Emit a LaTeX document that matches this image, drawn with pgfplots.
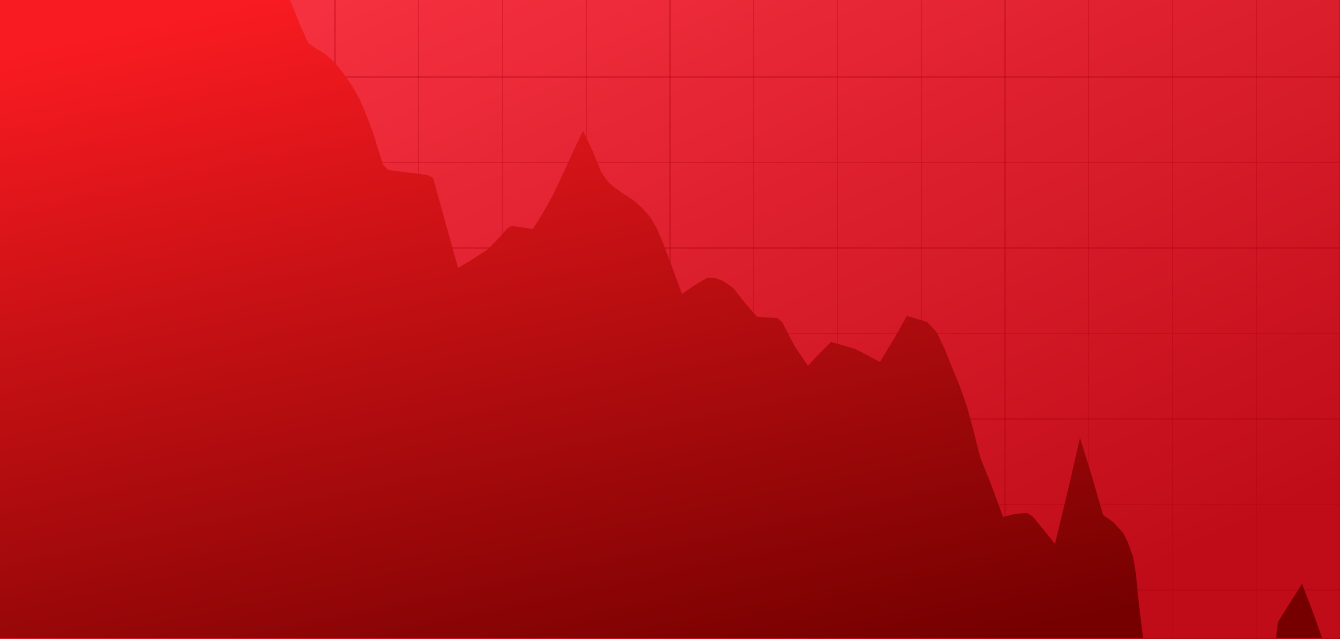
\documentclass[border=0pt]{standalone}
\usepackage{pgfplots}
\pgfplotsset{compat=1.18}
\definecolor{bgA}{HTML}{F5303F}
\definecolor{bgB}{HTML}{C00C19}
\definecolor{arA}{HTML}{F81B21}
\definecolor{arM}{HTML}{C60F14}
\definecolor{arB}{HTML}{760000}
\definecolor{gridc}{HTML}{B00012}
\begin{document}
\begin{tikzpicture}
\begin{axis}[name=ax, width=13.4cm, height=6.38cm, scale only axis,
 xmin=0, xmax=1340, ymin=0, ymax=638,
 axis line style={draw=none}, tick style={draw=none},
 xticklabels={}, yticklabels={},
 xtick={83.75,167.5,...,1300}, ytick={48,133.5,...,638},
 grid=major,
 major grid style={draw=gridc, draw opacity=0.3, line width=0.4pt},
 axis background/.style={top color=bgA, bottom color=bgB, shading angle=25}]
\addplot[draw=none, top color=arA, middle color=arM, bottom color=arB, shading angle=12] coordinates {
(0,658) (282,658) (290,638) (300,613) (308,595) (315,590) (325,584) (335,575)
(343,565) (352,552) (360,538) (367,521) (373,505) (383,473) (388,468) (427,463)
(433,460) (458,370) (470,377) (487,388) (497,398) (508,410) (512,412) (533,409)
(543,425) (553,443) (563,464) (573,486) (583,507) (593,486) (601,466) (608,456)
(615,450) (622,445) (633,438) (642,430) (650,421) (657,409) (663,395) (672,371)
(682,344) (695,353) (707,360) (715,360) (723,357) (733,350) (745,335) (757,321)
(777,320) (782,316) (795,291) (808,272) (820,285) (831,296) (855,289) (880,276)
(894,299) (907,322) (927,316) (937,305) (945,288) (953,268) (960,251) (967,231)
(974,205) (980,181) (990,156) (1003,121) (1015,124) (1027,125) (1033,121) (1055,94)
(1068,148) (1080,200) (1092,161) (1103,123) (1113,116) (1123,105) (1128,95) (1133,81)
(1136,63) (1138,41) (1143,0) (1276,0) (1278,16) (1290,35)
(1302,54) (1312,28) (1322,0) (1340,0)
} \closedcycle;
\end{axis}
\pgfresetboundingbox
\path[use as bounding box] (ax.south west) rectangle (ax.north east);
\end{tikzpicture}
\end{document}
